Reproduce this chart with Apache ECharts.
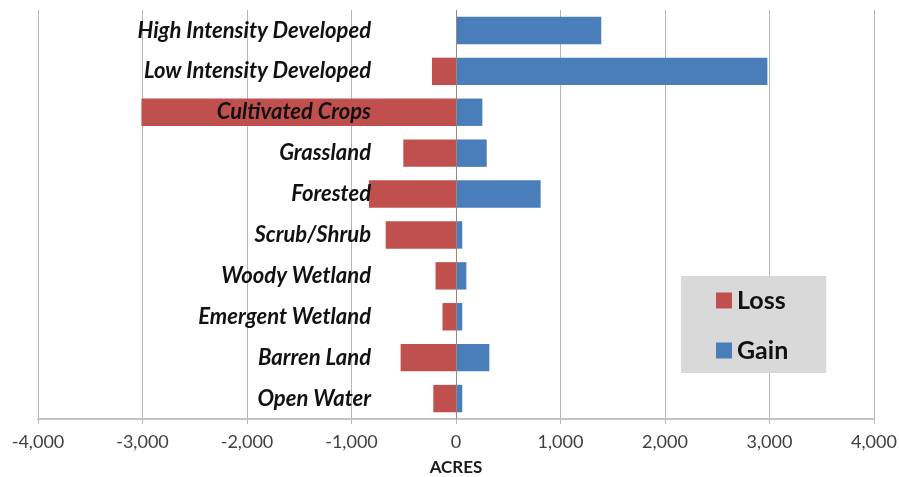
<!DOCTYPE html>
<html>
<head>
<meta charset="utf-8">
<script src="https://cdn.jsdelivr.net/npm/echarts@6/dist/echarts.min.js"></script>
<style>
  html, body { margin: 0; padding: 0; background: #ffffff; }
  #chart { width: 899px; height: 477px; }
</style>
</head>
<body>
<div id="chart"></div>
<script>
var categories = ['High Intensity Developed', 'Low Intensity Developed', 'Cultivated Crops', 'Grassland', 'Forested', 'Scrub/Shrub', 'Woody Wetland', 'Emergent Wetland', 'Barren Land', 'Open Water'];
var lossValues = [0, -230, -3010, -504, -833, -673, -196, -129, -530, -217];
var gainValues = [1390, 2980, 252, 294, 810, 60, 99, 60, 319, 60];
var xTicks = [-4000, 4000, 1000];

var chart = echarts.init(document.getElementById('chart'), null, { renderer: 'canvas' });
chart.setOption({
  animation: false,
  backgroundColor: '#ffffff',
  grid: { left: 38, right: 25, top: 10, bottom: 58, containLabel: false, outerBoundsMode: 'none' },
  legend: {
    orient: 'vertical',
    left: 681,
    top: 276,
    backgroundColor: '#d9d9d9',
    padding: [12, 38, 10, 35],
    itemWidth: 16,
    itemHeight: 16,
    itemGap: 25,
    icon: 'rect',
    textStyle: { fontFamily: 'Lato', fontWeight: 'bold', fontSize: 25, color: '#111111' },
    data: ['Loss', 'Gain']
  },
  xAxis: {
    type: 'value',
    min: xTicks[0],
    max: xTicks[1],
    interval: xTicks[2],
    name: 'ACRES',
    nameLocation: 'middle',
    nameGap: 40,
    nameTextStyle: { fontFamily: 'Lato', fontWeight: 'bold', fontSize: 17, color: '#1a1a1a' },
    axisLine: { show: true, lineStyle: { color: '#c4c4c4', width: 2 } },
    axisTick: { show: true, length: 5, lineStyle: { color: '#b8b8b8' } },
    axisLabel: {
      margin: 14,
      fontFamily: 'Lato',
      fontSize: 18,
      color: '#404040',
      formatter: function (v) { return v.toLocaleString('en-US'); }
    },
    splitLine: { show: true, lineStyle: { color: '#b5b5b5', width: 1 } }
  },
  yAxis: {
    type: 'category',
    data: categories,
    inverse: true,
    position: 'left',
    offset: -333,
    axisLine: { show: false, onZero: false },
    axisTick: { show: false },
    axisLabel: {
      margin: 0,
      fontFamily: 'Lato',
      fontWeight: 'bold',
      fontStyle: 'italic',
      fontSize: 22,
      color: '#111111'
    },
    splitLine: { show: false },
    z: 10
  },
  series: [
    {
      name: 'Loss',
      type: 'bar',
      data: lossValues,
      barWidth: '67%',
      barGap: '-100%',
      itemStyle: { color: '#c0504d' },
      z: 2
    },
    {
      name: 'Gain',
      type: 'bar',
      data: gainValues,
      barWidth: '67%',
      barGap: '-100%',
      itemStyle: { color: '#4a7ebb' },
      z: 2,
      markLine: {
        silent: true,
        symbol: 'none',
        label: { show: false },
        lineStyle: { color: '#a08478', width: 1, type: 'solid' },
        data: [{ xAxis: 0 }]
      }
    }
  ]
});
</script>
</body>
</html>
